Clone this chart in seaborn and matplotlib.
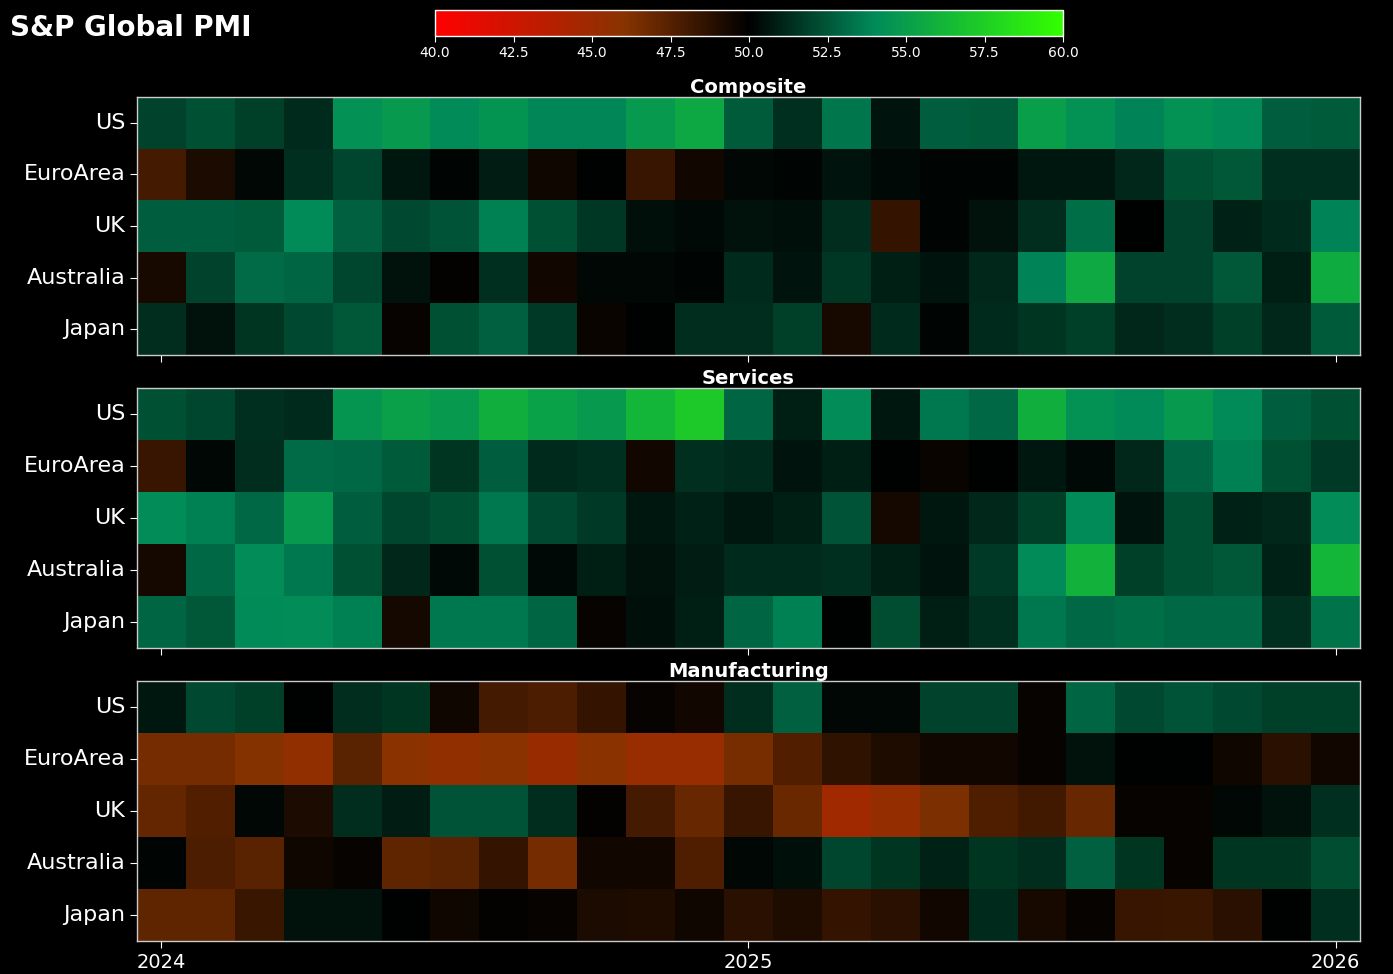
import numpy as np
import pandas as pd
import matplotlib
matplotlib.use("Agg")
import matplotlib.pyplot as plt
import seaborn as sns
from matplotlib.colors import LinearSegmentedColormap

countries = ["US", "EuroArea", "UK", "Australia", "Japan"]
months = pd.date_range("2024-01-01", "2026-01-01", freq="MS")

# PMI readings, Jan 2024 .. Jan 2026
comp_us = [51.9, 52.3, 51.8, 51.2, 54.3, 54.8, 54.0, 54.5, 53.9, 53.9, 54.8, 55.5, 52.6,
           51.4, 53.4, 50.6, 52.7, 52.6, 55.0, 54.4, 53.8, 54.4, 54.0, 52.7, 52.6]
comp_ea = [48.0, 49.2, 50.2, 51.4, 52.0, 50.7, 50.1, 50.8, 49.6, 50.0, 48.4, 49.5, 50.2,
           50.1, 50.6, 50.3, 50.1, 50.1, 50.7, 50.7, 51.1, 52.3, 52.5, 51.4, 51.4]
comp_uk = [52.7, 52.7, 52.6, 54.0, 52.8, 52.1, 52.4, 53.7, 52.3, 51.6, 50.4, 50.3, 50.5,
           50.4, 51.3, 48.5, 50.1, 50.5, 51.3, 53.2, 50.0, 51.9, 51.0, 51.2, 53.8]
comp_au = [49.3, 51.9, 53.1, 52.9, 52.0, 50.5, 49.9, 51.4, 49.5, 50.2, 50.2, 50.1, 51.2,
           50.6, 51.6, 50.9, 50.6, 51.1, 53.8, 55.6, 51.9, 51.9, 52.5, 50.9, 55.7]
comp_jp = [51.3, 50.5, 51.5, 52.1, 52.5, 49.8, 52.3, 52.8, 51.7, 49.7, 50.0, 51.3, 51.3,
           51.8, 49.3, 51.2, 50.1, 51.2, 51.5, 51.8, 51.1, 51.3, 51.8, 51.1, 52.6]

serv_us = [52.3, 52.0, 51.4, 51.2, 54.6, 55.1, 54.8, 55.9, 55.2, 54.8, 56.2, 57.2, 52.9,
           50.9, 54.1, 50.7, 53.5, 53.0, 55.9, 54.4, 54.0, 54.8, 54.0, 52.7, 52.3]
serv_ea = [48.4, 50.2, 51.3, 53.1, 53.0, 52.6, 51.5, 52.7, 51.2, 51.4, 49.5, 51.4, 51.2,
           50.6, 50.9, 50.0, 49.7, 50.0, 50.7, 50.3, 51.1, 52.9, 53.7, 52.3, 51.7]
serv_uk = [54.1, 53.7, 53.0, 54.8, 52.7, 52.0, 52.3, 53.5, 52.1, 51.7, 50.7, 51.0, 50.7,
           50.9, 52.4, 49.4, 50.7, 51.1, 51.8, 54.0, 50.6, 52.3, 51.0, 51.1, 54.1]
serv_au = [49.4, 53.0, 54.1, 53.5, 52.3, 51.1, 50.3, 52.3, 50.3, 50.9, 50.5, 50.8, 51.2,
           51.2, 51.4, 50.9, 50.6, 51.7, 54.0, 56.0, 51.8, 52.3, 52.5, 51.0, 56.2]
serv_jp = [52.9, 52.5, 54.0, 54.1, 53.7, 49.4, 53.5, 53.5, 52.9, 49.8, 50.4, 50.9, 52.9,
           53.7, 50.0, 52.2, 50.9, 51.4, 53.5, 53.0, 53.2, 53.0, 53.0, 51.4, 53.3]

manu_us = [50.7, 52.1, 51.8, 50.0, 51.3, 51.5, 49.6, 48.0, 47.8, 48.5, 49.8, 49.5, 51.3,
           52.8, 50.2, 50.2, 51.9, 51.9, 49.8, 52.9, 52.1, 52.4, 52.1, 51.8, 51.8]
manu_ea = [46.6, 46.6, 46.1, 45.5, 47.4, 45.9, 45.5, 45.9, 45.2, 45.9, 45.3, 45.3, 46.5,
           47.6, 48.6, 49.1, 49.5, 49.5, 49.8, 50.5, 50.0, 50.0, 49.6, 48.8, 49.5]
manu_uk = [47.1, 47.6, 50.2, 49.2, 51.3, 50.8, 52.4, 52.4, 51.3, 49.9, 48.0, 47.0, 48.4,
           46.9, 44.8, 45.4, 46.4, 47.7, 48.1, 47.0, 49.8, 49.8, 50.2, 50.5, 51.4]
manu_au = [50.1, 47.8, 47.4, 49.6, 49.8, 47.2, 47.4, 48.5, 46.6, 49.5, 49.5, 47.7, 50.2,
           50.4, 52.0, 51.5, 51.0, 51.5, 51.3, 52.8, 51.5, 49.8, 51.5, 51.5, 52.2]
manu_jp = [47.2, 47.2, 48.3, 50.5, 50.5, 50.0, 49.6, 49.9, 49.8, 49.2, 49.1, 49.6, 48.8,
           49.1, 48.5, 48.8, 49.5, 51.2, 49.3, 49.8, 48.4, 48.3, 48.8, 50.0, 51.4]

sectors = {
    "Composite": [comp_us, comp_ea, comp_uk, comp_au, comp_jp],
    "Services": [serv_us, serv_ea, serv_uk, serv_au, serv_jp],
    "Manufacturing": [manu_us, manu_ea, manu_uk, manu_au, manu_jp],
}

cmap = LinearSegmentedColormap.from_list(
    "pmi", [(0.0, "#ff0000"), (0.3, "#883300"), (0.5, "#000000"),
            (0.7, "#008a5a"), (1.0, "#33ff00")])

plt.rcParams["figure.facecolor"] = "black"
plt.rcParams["axes.facecolor"] = "black"
plt.rcParams["font.family"] = ["DejaVu Sans"]

fig = plt.figure(figsize=(13.93, 9.74), dpi=100)
cax = fig.add_axes([0.3123, 0.963, 0.4508, 0.0267])
boxes = [[0.0983, 0.6355, 0.878, 0.2649],
         [0.0983, 0.3347, 0.878, 0.2669],
         [0.0983, 0.0339, 0.878, 0.2669]]

jan_pos = [i + 0.5 for i, m in enumerate(months) if m.month == 1]
jan_lab = [str(m.year) for m in months if m.month == 1]

cbar = None
for k, (name, rows) in enumerate(sectors.items()):
    ax = fig.add_axes(boxes[k])
    df = pd.DataFrame(rows, index=countries, columns=months)
    sns.heatmap(df, ax=ax, cmap=cmap, vmin=40, vmax=60,
                cbar=(k == 0), cbar_ax=cax if k == 0 else None,
                cbar_kws={"orientation": "horizontal",
                          "ticks": np.arange(40, 60.1, 2.5), "format": "%.1f"},
                xticklabels=False, yticklabels=countries)
    if k == 0:
        cbar = ax.collections[0].colorbar
    ax.set_title(name, color="white", fontsize=14, fontweight="bold", pad=3)
    ax.set_xlabel("")
    ax.set_ylabel("")
    ax.set_xticks(jan_pos)
    if k == 2:
        ax.set_xticklabels(jan_lab, fontsize=14, color="white")
    else:
        ax.set_xticklabels([])
    ax.set_yticklabels(countries, rotation=0, fontsize=16, color="white")
    ax.tick_params(colors="white", length=5)
    for s in ax.spines.values():
        s.set_visible(True)
        s.set_edgecolor("#cccccc")
        s.set_linewidth(1)

cax.tick_params(colors="white", labelsize=10, length=4)
cbar.outline.set_visible(True)
cbar.outline.set_edgecolor("white")
cbar.outline.set_linewidth(1)

fig.text(0.007, 0.971, "S&P Global PMI", color="white", fontsize=20,
         fontweight="bold", va="center", ha="left")

fig.savefig("out.png", dpi=100, facecolor="black")
